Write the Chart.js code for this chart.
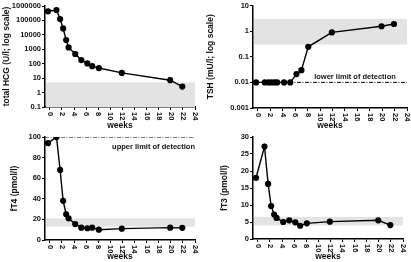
<!DOCTYPE html>
<html>
<head>
<meta charset="utf-8">
<script src="https://cdn.jsdelivr.net/npm/chart.js@4/dist/chart.umd.min.js"></script>
<style>
  html,body{margin:0;padding:0;background:#fff;}
  #wrap{position:relative;width:411px;height:262px;overflow:hidden;}
  canvas{position:absolute;}
</style>
</head>
<body>
<div id="wrap">
  <canvas id="c1" width="205" height="131" style="left:0;top:0"></canvas>
  <canvas id="c2" width="206" height="131" style="left:205px;top:0"></canvas>
  <canvas id="c3" width="205" height="131" style="left:0;top:131px"></canvas>
  <canvas id="c4" width="206" height="131" style="left:205px;top:131px"></canvas>
</div>
<script>
// weeks since start (shared by all four panels)
const weeks = [-0.3, 1.1, 1.7, 2.2, 2.7, 3.1, 4.2, 5.2, 6.2, 7.0, 8.1, 11.9, 19.9, 21.9];
const hcg  = [430000, 530000, 125000, 28000, 4400, 1350, 470, 180, 105, 68, 50, 23, 7.2, 2.6];
const tsh  = [0.01, 0.01, 0.01, 0.01, 0.01, 0.01, 0.01, 0.01, 0.021, 0.03, 0.245, 0.89, 1.55, 1.9];
const ft4  = [94, 100, 68, 38, 25, 21, 15.5, 12, 11.4, 12, 10, 11, 12, 11.8];
const ft3  = [18, 27.2, 16.2, 9.7, 7.2, 6.2, 5.0, 5.5, 4.9, 3.9, 4.6, 5.1, 5.5, 4.1];

// reference ranges (grey bands)
const hcgRange = [0.1, 5];
const tshRange = [0.3, 3];
const ft4Range = [13, 21];
const ft3Range = [4, 6.5];

// detection limits
const tshLimit = {y: 0.01, from: 5, to: 24, text: 'lower limit of detection'};
const ft4Limit = {y: 100, from: -0.8, to: 24, text: 'upper limit of detection'};

const weekTicks = [0, 2, 4, 6, 8, 10, 12, 14, 16, 18, 20, 22, 24];
const hcgTicks = [0.1, 1, 10, 100, 1000, 10000, 100000, 1000000];
const tshTicks = [0.001, 0.01, 0.1, 1, 10];
const ft4Ticks = [0, 20, 40, 60, 80, 100];
const ft3Ticks = [0, 5, 10, 15, 20, 25, 30];

const FONT = '"Liberation Sans", Arial, sans-serif';
const INK = '#111';

const bandPlugin = {
  id: 'band',
  beforeDatasetsDraw(chart, args, o){
    if(!o || !o.range) return;
    const {ctx, chartArea:a, scales:{x, y}} = chart;
    const y1 = y.getPixelForValue(o.range[1]), y0 = y.getPixelForValue(o.range[0]);
    ctx.save();
    ctx.fillStyle = '#e3e3e3';
    ctx.fillRect(a.left + 1, y1, x.getPixelForValue(24) - a.left - 1, y0 - y1);
    ctx.restore();
  }
};

const xLabelPlugin = {
  id: 'xlab',
  afterDraw(chart){
    const {ctx, scales:{x}} = chart;
    ctx.save();
    ctx.fillStyle = INK;
    ctx.font = 'bold 7.5px ' + FONT;
    ctx.textAlign = 'left';
    ctx.textBaseline = 'middle';
    for (const v of weekTicks){
      ctx.save();
      ctx.translate(x.getPixelForValue(v), x.top + 5);
      ctx.rotate(Math.PI / 2);
      ctx.fillText(String(v), 0, 0);
      ctx.restore();
    }
    ctx.restore();
  }
};

const notePlugin = {
  id: 'note',
  afterDatasetsDraw(chart, args, o){
    if(!o || !o.text) return;
    const {ctx, scales:{x, y}} = chart;
    ctx.save();
    ctx.fillStyle = INK;
    ctx.font = 'bold 7.5px ' + FONT;
    ctx.textAlign = 'right';
    ctx.textBaseline = 'alphabetic';
    ctx.fillText(o.text, x.getPixelForValue(o.atX), y.getPixelForValue(o.y) + o.dy);
    ctx.restore();
  }
};

function makeChart(id, vals, opt){
  const pts = weeks.map((w, i) => ({x: w, y: vals[i]}));
  const datasets = [{
    data: pts, borderColor: '#000', backgroundColor: '#000', borderWidth: 1.4,
    pointRadius: 2.4, pointHoverRadius: 2.4, tension: 0, order: 1
  }];
  if (opt.limit){
    datasets.push({
      data: [{x: opt.limit.from, y: opt.limit.y}, {x: opt.limit.to, y: opt.limit.y}],
      borderColor: '#000', borderWidth: 1, borderDash: [4, 1.5, 1, 1.5],
      pointRadius: 0, order: 2
    });
  }
  return new Chart(document.getElementById(id), {
    type: 'line',
    data: {datasets},
    plugins: [bandPlugin, xLabelPlugin, notePlugin],
    options: {
      responsive: false, devicePixelRatio: 1, animation: false,
      layout: {padding: opt.pad},
      plugins: {
        legend: {display: false}, tooltip: {enabled: false},
        band: {range: opt.range},
        note: opt.note || {}
      },
      scales: {
        x: {
          type: 'linear', min: -0.8, max: 24,
          afterBuildTicks: s => { s.ticks = weekTicks.map(v => ({value: v})); },
          afterFit: s => { s.height = opt.xh; },
          ticks: {display: false},
          grid: {drawOnChartArea: false, drawTicks: true, tickLength: 3, color: '#000', lineWidth: 1},
          border: {color: '#000', width: 1.5},
          title: {display: true, text: 'weeks', color: INK, font: {family: FONT, size: 8.5, weight: 'bold'}, padding: {top: 0, bottom: 0}}
        },
        y: {
          type: opt.log ? 'logarithmic' : 'linear',
          min: opt.yTicks[0], max: opt.yTicks[opt.yTicks.length - 1],
          afterBuildTicks: s => { s.ticks = opt.yTicks.map(v => ({value: v})); },
          afterFit: s => { s.width = opt.yw; },
          ticks: {
            color: INK, padding: 1, font: {family: FONT, size: 7.5, weight: 'bold'},
            callback: v => String(v)
          },
          grid: {drawOnChartArea: false, drawTicks: true, tickLength: 3, color: '#000', lineWidth: 1},
          border: {color: '#000', width: 1.5},
          title: {display: true, text: opt.title, color: INK, font: {family: FONT, size: 8.5, weight: 'bold'}, padding: {top: opt.tpad, bottom: 0}}
        }
      }
    }
  });
}

makeChart('c1', hcg, {
  log: true, yTicks: hcgTicks, title: 'total HCG (U/l; log scale)', range: hcgRange,
  pad: {left: 0, right: 10, top: 6, bottom: 0}, yw: 45, xh: 24, tpad: 2
});
makeChart('c2', tsh, {
  log: true, yTicks: tshTicks, title: 'TSH (mU/l; log scale)', range: tshRange,
  limit: tshLimit, note: {text: tshLimit.text, atX: 22.2, y: tshLimit.y, dy: -3},
  pad: {left: 0, right: 4, top: 5, bottom: 0}, yw: 48, xh: 23, tpad: 1
});
makeChart('c3', ft4, {
  log: false, yTicks: ft4Ticks, title: 'fT4 (pmol/l)', range: ft4Range,
  limit: ft4Limit, note: {text: ft4Limit.text, atX: 24, y: ft4Limit.y, dy: 12},
  pad: {left: 0, right: 10, top: 6, bottom: 0}, yw: 45, xh: 22, tpad: 10
});
makeChart('c4', ft3, {
  log: false, yTicks: ft3Ticks, title: 'fT3 (pmol/l)', range: ft3Range,
  pad: {left: 0, right: 8, top: 6, bottom: 0}, yw: 48, xh: 23, tpad: 15
});
</script>
</body>
</html>
